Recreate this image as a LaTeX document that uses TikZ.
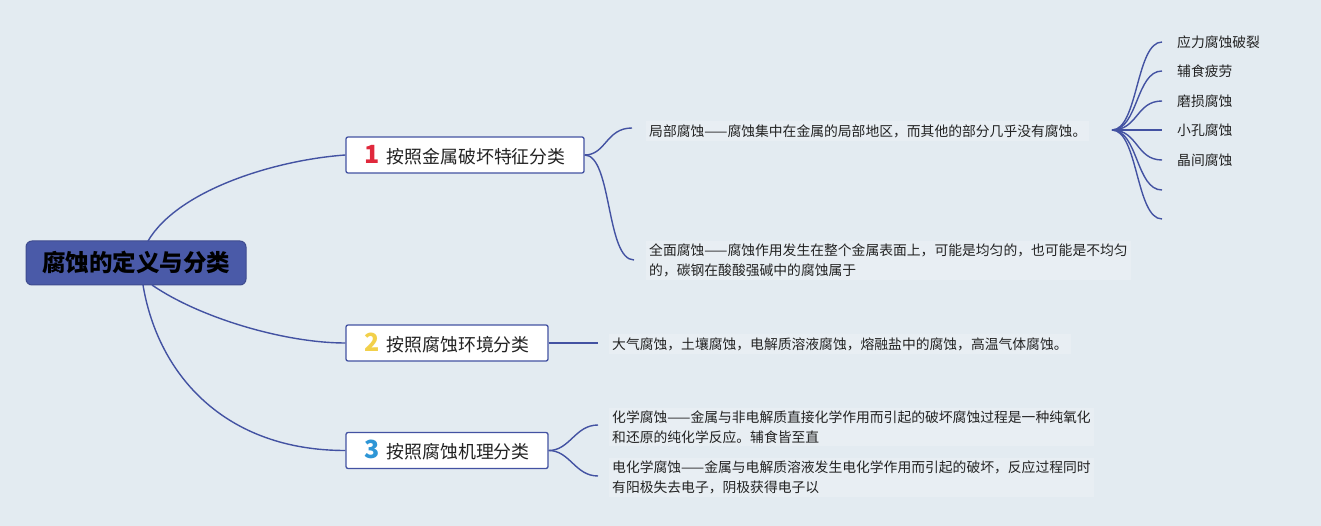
\documentclass[tikz,border=0pt]{standalone}
\usepackage{fontspec}
\setmainfont{Noto Sans CJK SC}
\definecolor{bg}{HTML}{E3EBF1}
\definecolor{tbg}{HTML}{E8EEF3}
\definecolor{ln}{HTML}{4352A2}
\definecolor{rootc}{HTML}{4A5AA8}
\definecolor{nred}{HTML}{E0283C}
\definecolor{nyel}{HTML}{F2D04A}
\definecolor{nblue}{HTML}{2E96D6}
\definecolor{txt}{HTML}{222222}
\begin{document}
\begin{tikzpicture}[x=1pt,y=-1pt,
  conn/.style={draw=ln,line width=1.4pt},
  rootbox/.style={draw=rootc!85!black,fill=rootc,rounded corners=6pt,line width=1pt,minimum width=220pt,minimum height=44pt,font=\fontsize{23.5}{26}\selectfont\bfseries,text=black,inner sep=0pt},
  catbox/.style={draw=ln,fill=white,rounded corners=2pt,line width=1.3pt,minimum height=36pt,font=\fontsize{17.9}{20}\selectfont,text=txt,inner sep=0pt},
  leaf/.style={anchor=west,font=\fontsize{13.8}{20}\selectfont,text=txt,align=left,inner sep=3pt,fill=tbg}
]
\useasboundingbox (0,0) rectangle (1321,526);
\fill[bg] (0,0) rectangle (1321,526);

% root
\node[rootbox] (root) at (136,263) {腐蚀的定义与分类};

% category boxes
\node[catbox,minimum width=238pt] (c1) at (465,155) {{\color{nred}\fontsize{25}{25}\selectfont\bfseries 1}\hspace{7pt}按照金属破坏特征分类};
\node[catbox,minimum width=202pt] (c2) at (447,343) {{\color{nyel}\fontsize{25}{25}\selectfont\bfseries 2}\hspace{7pt}按照腐蚀环境分类};
\node[catbox,minimum width=202pt] (c3) at (447,450.5) {{\color{nblue}\fontsize{25}{25}\selectfont\bfseries 3}\hspace{7pt}按照腐蚀机理分类};

% root connectors
\coordinate (rt) at (148,241);
\coordinate (rb2) at (152,285);
\coordinate (rb3) at (143,285);
\draw[conn] (rt) .. controls (178,190) and (275,160) .. (c1.west);
\draw[conn] (rb2) .. controls (200,318) and (285,343) .. (c2.west);
\draw[conn] (rb3) .. controls (158,375) and (225,450.5) .. (c3.west);

% leaves of category 1
\node[leaf] (l1) at (646,131) {局部腐蚀——腐蚀集中在金属的局部地区，而其他的部分几乎没有腐蚀。};
\node[leaf] (l2) at (646,260.5) {全面腐蚀——腐蚀作用发生在整个金属表面上，可能是均匀的，也可能是不均匀\\的，碳钢在酸酸强碱中的腐蚀属于};
\coordinate (e1) at (632,128);
\coordinate (e2) at (634,260);
\draw[conn] (c1.east) .. controls (606,155) and (606,128) .. (e1);
\draw[conn] (c1.east) .. controls (612,155) and (606,260) .. (e2);

% fan
\coordinate (fan) at (1112,130);
\foreach \y/\name/\t in {42/f1/应力腐蚀破裂,71/f2/辅食疲劳,101/f3/磨损腐蚀,130/f4/小孔腐蚀,160/f5/晶间腐蚀}{
  \coordinate (\name) at (1162,\y);
  \node[leaf,fill=none] (\name t) at (1174,\y) {\t};
  \draw[conn] (fan) .. controls (1138,130) and (1136,\y) .. (\name);
}
\foreach \y/\name in {190/f6,219/f7}{
  \coordinate (\name) at (1162,\y);
  \draw[conn] (fan) .. controls (1138,130) and (1136,\y) .. (\name);
}

% category 2
\node[leaf] (m1) at (609,344) {大气腐蚀，土壤腐蚀，电解质溶液腐蚀，熔融盐中的腐蚀，高温气体腐蚀。};
\coordinate (e3) at (598,343);
\draw[conn] (c2.east) -- (e3);

% category 3
\node[leaf] (n1) at (609,427) {化学腐蚀——金属与非电解质直接化学作用而引起的破坏腐蚀过程是一种纯氧化\\和还原的纯化学反应。辅食皆至直};
\node[leaf] (n2) at (609,477.5) {电化学腐蚀——金属与电解质溶液发生电化学作用而引起的破坏，反应过程同时\\有阳极失去电子，阴极获得电子以};
\coordinate (e4) at (598,425);
\coordinate (e5) at (598,476);
\draw[conn] (c3.east) .. controls (570,450.5) and (575,425) .. (e4);
\draw[conn] (c3.east) .. controls (570,450.5) and (575,476) .. (e5);
\end{tikzpicture}
\end{document}
